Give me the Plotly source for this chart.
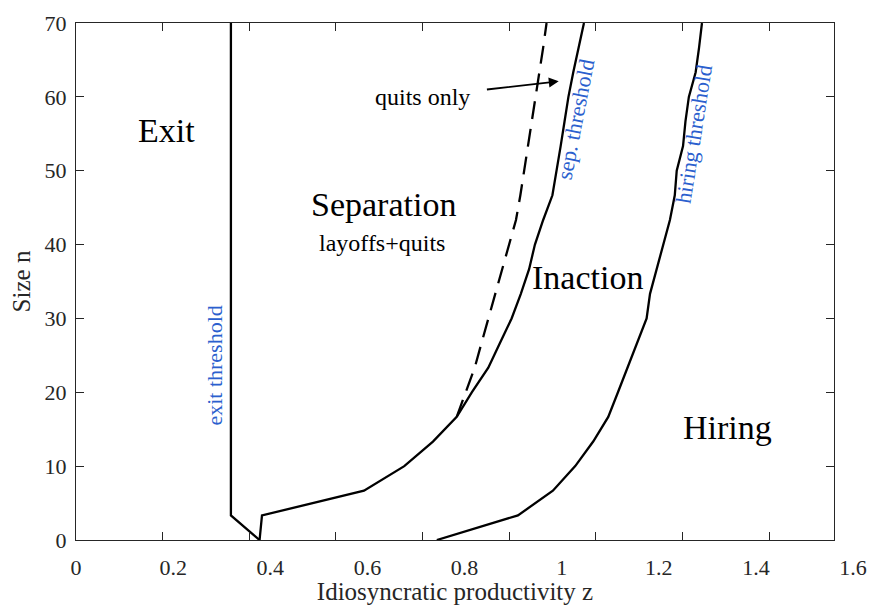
import plotly.graph_objects as go

# Firm size grid (rows of the policy map)
size_n = [0, 3.33, 6.67, 10, 13.33, 16.67, 20, 23.33, 26.67, 30, 33.33,
          36.67, 40, 43.33, 46.67, 50, 53.33, 56.67, 60, 63.33, 66.67, 70]

# Productivity thresholds at each size
exit_z = [0.378, 0.319, 0.319, 0.319, 0.319, 0.319, 0.319, 0.319, 0.319, 0.319, 0.319,
          0.319, 0.319, 0.319, 0.319, 0.319, 0.319, 0.319, 0.319, 0.319, 0.319, 0.319]
sep_z = [0.378, 0.383, 0.593, 0.676, 0.735, 0.784, 0.815, 0.849, 0.873, 0.897, 0.916,
         0.933, 0.945, 0.962, 0.981, 0.990, 0.998, 1.006, 1.014, 1.024, 1.035, 1.046]
hire_z = [0.743, 0.910, 0.982, 1.028, 1.065, 1.096, 1.116, 1.136, 1.155, 1.175, 1.182,
          1.196, 1.209, 1.223, 1.233, 1.237, 1.250, 1.255, 1.262, 1.276, 1.283, 1.289]

# Quits-only boundary (above n = 16.67)
quit_n = [16.67, 20, 23.33, 26.67, 30, 33.33, 36.67, 40, 43.33, 46.67, 50,
          53.33, 56.67, 60, 63.33, 66.67, 70]
quit_z = [0.784, 0.803, 0.821, 0.835, 0.849, 0.863, 0.877, 0.891, 0.906, 0.915, 0.923,
          0.931, 0.939, 0.946, 0.954, 0.962, 0.969]

# Axis labelling
x_label_vals = [0, 0.2, 0.4, 0.6, 0.8, 1.0, 1.2, 1.4, 1.6]
x_label_text = ["0", "0.2", "0.4", "0.6", "0.8", "1", "1.2", "1.4", "1.6"]
y_ticks = [0, 10, 20, 30, 40, 50, 60, 70]

FONT = "Liberation Serif"
AX = "#262626"
BLUE = "#2b5fce"

W, H = 871, 605
ML, MR, MT, MB = 76, 18, 23, 65
plot_w = W - ML - MR
frame_w = 758                       # width of the framed axes box
x_end = 1.6 * frame_w / plot_w      # value at the right edge of the frame
tick_step = x_end * 0.2 / 1.75      # spacing of the frame tick marks

line = dict(color="black", width=2.3)

fig = go.Figure()
fig.add_trace(go.Scatter(x=exit_z, y=size_n, mode="lines", line=line, showlegend=False))
fig.add_trace(go.Scatter(x=sep_z, y=size_n, mode="lines", line=line, showlegend=False))
fig.add_trace(go.Scatter(x=hire_z, y=size_n, mode="lines", line=line, showlegend=False))
fig.add_trace(go.Scatter(x=quit_z, y=quit_n, mode="lines",
                         line=dict(color="black", width=2.3, dash="18px,10px"),
                         showlegend=False))
# carrier for the labelled z scale
fig.add_trace(go.Scatter(x=[], y=[], xaxis="x2", yaxis="y", showlegend=False,
                         hoverinfo="skip"))

ann = []


def region(text, x, y, size):
    ann.append(dict(x=x, y=y, xref="x", yref="y", text=text, showarrow=False,
                    font=dict(family=FONT, size=size, color="black"),
                    xanchor="center", yanchor="middle"))


def blue(text, x, y, angle):
    ann.append(dict(x=x, y=y, xref="x", yref="y", text=text, showarrow=False,
                    textangle=angle, font=dict(family=FONT, size=22, color=BLUE),
                    xanchor="center", yanchor="middle"))


region("Exit", 0.187, 55.4, 34)
region("Separation", 0.634, 45.4, 34)
region("layoffs+quits", 0.630, 40.2, 24)
region("Inaction", 1.054, 35.5, 34)
region("Hiring", 1.341, 15.3, 34)

blue("exit threshold", 0.286, 23.6, -90)
blue("sep. threshold", 1.029, 56.9, -79)
blue("hiring threshold", 1.273, 55.0, -81)

ann.append(dict(x=0.994, y=62.1, xref="x", yref="y",
                ax=0.7125, ay=60.0, axref="x", ayref="y",
                text="quits only", showarrow=True, arrowhead=2, arrowsize=1.1,
                arrowwidth=1.8, arrowcolor="black", startstandoff=16,
                font=dict(family=FONT, size=24, color="black")))

fig.update_layout(
    template="none",
    width=W, height=H,
    margin=dict(l=ML, r=MR, t=MT, b=MB, autoexpand=False),
    paper_bgcolor="white", plot_bgcolor="rgba(0,0,0,0)",
    font=dict(family=FONT, color=AX),
    annotations=ann,
    showlegend=False,
    xaxis=dict(domain=[0, frame_w / plot_w], range=[0, x_end], automargin=False,
               tick0=0, dtick=tick_step, ticks="inside", ticklen=8, tickwidth=1.3,
               tickcolor=AX, showticklabels=False, showline=True, linecolor=AX,
               linewidth=1.3, mirror="ticks", showgrid=False, zeroline=False,
               title=dict(text="Idiosyncratic productivity z", standoff=50,
                          font=dict(family=FONT, size=25, color=AX))),
    xaxis2=dict(domain=[0, 1], anchor="y", range=[0, 1.6], automargin=False,
                tickvals=x_label_vals, ticktext=x_label_text, ticks="",
                showline=False, showgrid=False, zeroline=False,
                ticklabelstandoff=12,
                tickfont=dict(family=FONT, size=22, color=AX)),
    yaxis=dict(range=[0, 70], tickvals=y_ticks, ticks="inside", ticklen=8,
               automargin=False,
               tickwidth=1.3, tickcolor=AX, showline=True, linecolor=AX,
               linewidth=1.3, mirror="ticks", showgrid=False, zeroline=False,
               ticklabelstandoff=4,
               tickfont=dict(family=FONT, size=22, color=AX),
               title=dict(text="Size n", standoff=6,
                          font=dict(family=FONT, size=25, color=AX))),
)

fig.write_html("out.html")
